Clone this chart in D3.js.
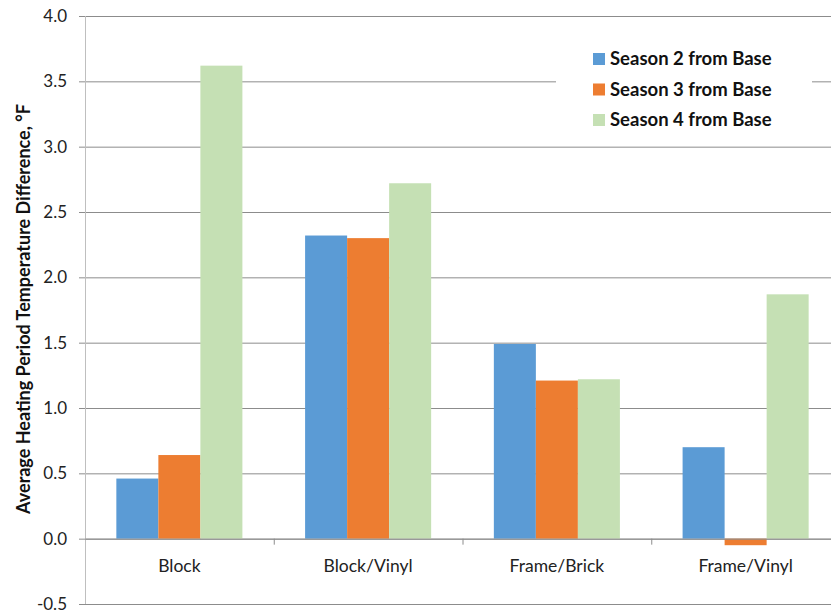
<!DOCTYPE html>
<html>
<head>
<meta charset="utf-8">
<script src="https://cdn.jsdelivr.net/npm/d3@7"></script>
<style>
  html, body { margin: 0; padding: 0; background: #fff; }
  svg { display: block; font-family: Lato, "Open Sans", sans-serif; }
</style>
</head>
<body>
<svg id="chart" width="831" height="614"></svg>
<script>
// Categories and series
const categories = ["Block", "Block/Vinyl", "Frame/Brick", "Frame/Vinyl"];
const seriesNames = ["Season 2 from Base", "Season 3 from Base", "Season 4 from Base"];
const season2 = [0.46, 2.32, 1.49, 0.70];
const season3 = [0.64, 2.30, 1.21, -0.05];
const season4 = [3.62, 2.72, 1.22, 1.87];
const yTicks = [-0.5, 0.0, 0.5, 1.0, 1.5, 2.0, 2.5, 3.0, 3.5, 4.0];
const colors = ["#5B9BD5", "#ED7D31", "#C5E0B4"];

const seriesValues = [season2, season3, season4];

const svg = d3.select("#chart");
const margin = { left: 85, top: 16, right: 840, bottom: 604 };

const y = d3.scaleLinear().domain([-0.5, 4.0]).range([margin.bottom, margin.top]);
const x0 = d3.scaleBand().domain(categories).range([margin.left, margin.right]).paddingInner(0).paddingOuter(0);
const x1 = d3.scaleBand().domain(d3.range(seriesNames.length))
  .range([0, x0.bandwidth()]).paddingInner(0).paddingOuter(0.746);

// Horizontal gridlines with short ticks left of the axis
const grid = svg.append("g")
  .attr("transform", `translate(${margin.left},0)`)
  .call(d3.axisLeft(y).tickValues(yTicks).tickSize(-(margin.right - margin.left)).tickFormat(""));
grid.select(".domain").remove();
grid.selectAll(".tick line").attr("stroke", "#8c8c8c").attr("stroke-width", 1).attr("x1", -6);

// Y tick labels (plain hyphen for negatives)
const fmt = d3.format(".1f");
svg.append("g").selectAll("text")
  .data(yTicks).join("text")
  .attr("x", 67).attr("y", d => y(d)).attr("dy", "0.36em")
  .attr("text-anchor", "end").attr("font-size", 17).attr("fill", "#222")
  .text(d => fmt(d).replace("\u2212", "-"));

// Bars
const groups = svg.append("g").selectAll("g")
  .data(categories).join("g")
  .attr("transform", d => `translate(${x0(d)},0)`);
groups.selectAll("rect")
  .data((c, ci) => seriesValues.map((vals, si) => ({ si, v: vals[ci] })))
  .join("rect")
  .attr("x", d => x1(d.si))
  .attr("width", x1.bandwidth())
  .attr("y", d => y(Math.max(0, d.v)))
  .attr("height", d => Math.abs(y(d.v) - y(0)))
  .attr("fill", d => colors[d.si]);

// Vertical axis line
svg.append("line")
  .attr("x1", margin.left + 0.5).attr("x2", margin.left + 0.5)
  .attr("y1", margin.top).attr("y2", margin.bottom)
  .attr("stroke", "#bfbfbf").attr("stroke-width", 1);

// Zero baseline with category-boundary ticks
const xAxis = svg.append("g")
  .attr("transform", `translate(0,${y(0)})`)
  .call(d3.axisBottom(d3.scaleLinear().domain([0, 4]).range([margin.left, margin.right]))
    .tickValues([1, 2, 3]).tickSize(6).tickFormat(""));
xAxis.select(".domain").attr("stroke", "#8c8c8c").attr("d", `M${margin.left},0.5H${margin.right}`);
xAxis.selectAll(".tick line").attr("stroke", "#8c8c8c");

// Category labels
svg.append("g").selectAll("text")
  .data(categories).join("text")
  .attr("x", d => x0(d) + x0.bandwidth() / 2)
  .attr("y", 572)
  .attr("text-anchor", "middle").attr("font-size", 17.5).attr("fill", "#222")
  .text(d => d);

// Y axis title
svg.append("text")
  .attr("transform", `translate(30,309) rotate(-90)`)
  .attr("text-anchor", "middle").attr("font-size", 18).attr("font-weight", "bold").attr("fill", "#111")
  .text("Average Heating Period Temperature Difference, °F");

// Legend
const legend = svg.append("g");
legend.append("rect")
  .attr("x", 556).attr("y", 38).attr("width", 256).attr("height", 100).attr("fill", "#fff");
const items = legend.selectAll("g.item")
  .data(seriesNames).join("g").attr("class", "item")
  .attr("transform", (d, i) => `translate(593,${53 + i * 30.5})`);
items.append("rect").attr("width", 12).attr("height", 12).attr("fill", (d, i) => colors[i]);
items.append("text")
  .attr("x", 17).attr("y", 12)
  .attr("font-size", 18.5).attr("font-weight", "bold").attr("fill", "#111")
  .text(d => d);
</script>
</body>
</html>
